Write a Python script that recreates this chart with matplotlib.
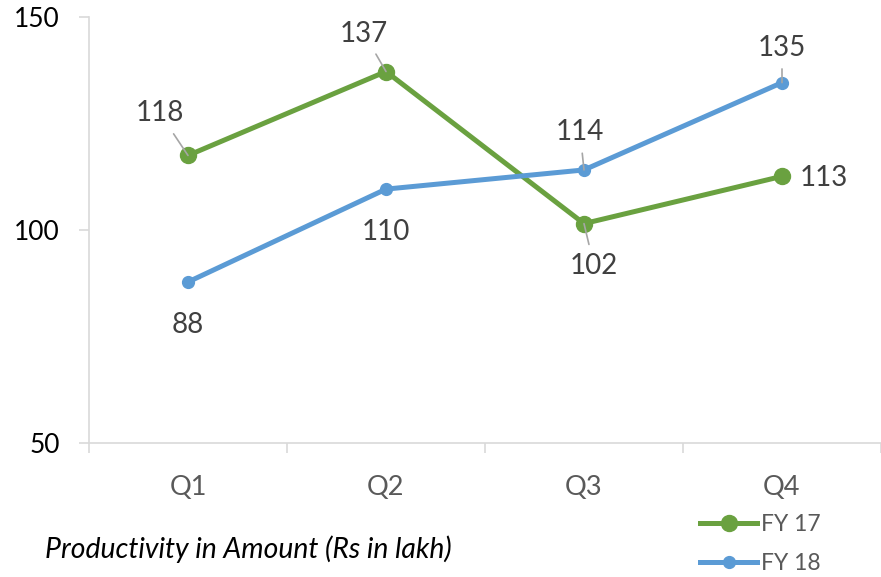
import matplotlib.pyplot as plt
from matplotlib.lines import Line2D

# data
quarters = ["Q1", "Q2", "Q3", "Q4"]
fy17 = [117.5, 137.2, 101.5, 112.6]
fy18 = [87.8, 109.6, 114.1, 134.6]
fy17_labels = ["118", "137", "102", "113"]
fy18_labels = ["88", "110", "114", "135"]
y_ticks = [50, 100, 150]

# label offsets in pixels (dx, dy) and whether a leader line is drawn
fy17_offsets = [(-28, 42, True), (-22, 38, True), (10, -42, True), (42, -2, False)]
fy18_offsets = [(0, -43, False), (0, -43, False), (-4, 38, True), (0, 35, True)]

green = "#6AA140"
blue = "#5B9BD5"
plt.rcParams['font.family'] = ['Lato', 'DejaVu Sans']

fig = plt.figure(figsize=(8.81, 5.77), dpi=100)
ax = fig.add_axes([89 / 881, 1 - 443 / 577, 792 / 881, 426 / 577])

x = list(range(len(quarters)))
ax.plot(x, fy17, color=green, lw=3.6, marker='o', ms=11.5, zorder=3)
ax.plot(x, fy18, color=blue, lw=3.6, marker='o', ms=8.5, zorder=3)


def add_labels(vals, labels, offsets):
    for xi, v, lab, (dx, dy, leader) in zip(x, vals, labels, offsets):
        arrow = None
        if leader:
            arrow = dict(arrowstyle='-', color='#A6A6A6', lw=1.2, shrinkA=4, shrinkB=0)
        ax.annotate(lab, (xi, v), xytext=(dx, dy), textcoords='offset pixels',
                    ha='center', va='center', fontsize=20, color='#404040',
                    arrowprops=arrow, zorder=4)


add_labels(fy17, fy17_labels, fy17_offsets)
add_labels(fy18, fy18_labels, fy18_offsets)

ax.set_xlim(-0.5, 3.5)
ax.set_ylim(50, 150)
ax.set_yticks(y_ticks)
ax.set_xticks(x)
ax.set_xticklabels(quarters)
ax.set_xticks([-0.5, 0.5, 1.5, 2.5, 3.5], minor=True)
ax.tick_params(axis='x', which='major', length=0, pad=23, labelsize=19.5, labelcolor='#595959')
ax.tick_params(axis='x', which='minor', length=7, width=1.2, color='#D9D9D9', direction='out')
ax.tick_params(axis='y', length=7, width=1.2, color='#D9D9D9', pad=14, labelsize=19, labelcolor='black')

for side in ['top', 'right']:
    ax.spines[side].set_visible(False)
for side in ['left', 'bottom']:
    ax.spines[side].set_color('#D9D9D9')
    ax.spines[side].set_linewidth(1.2)

handles = [Line2D([], [], color=green, lw=3.6, marker='o', ms=11.5),
           Line2D([], [], color=blue, lw=3.6, marker='o', ms=8.5)]
fig.legend(handles, ["FY 17", "FY 18"], loc='upper left', bbox_to_anchor=(700 / 881, 1 - 514 / 577),
           frameon=False, fontsize=16.5, labelcolor='#595959', handlelength=2.5,
           handletextpad=0.15, labelspacing=0.8, borderaxespad=0, borderpad=0)

fig.text(45 / 881, 1 - 549 / 577, "Productivity in Amount (Rs in lakh)", fontsize=20.4,
         style='italic', va='center', ha='left', color='black')

fig.savefig("out.png", dpi=100)
